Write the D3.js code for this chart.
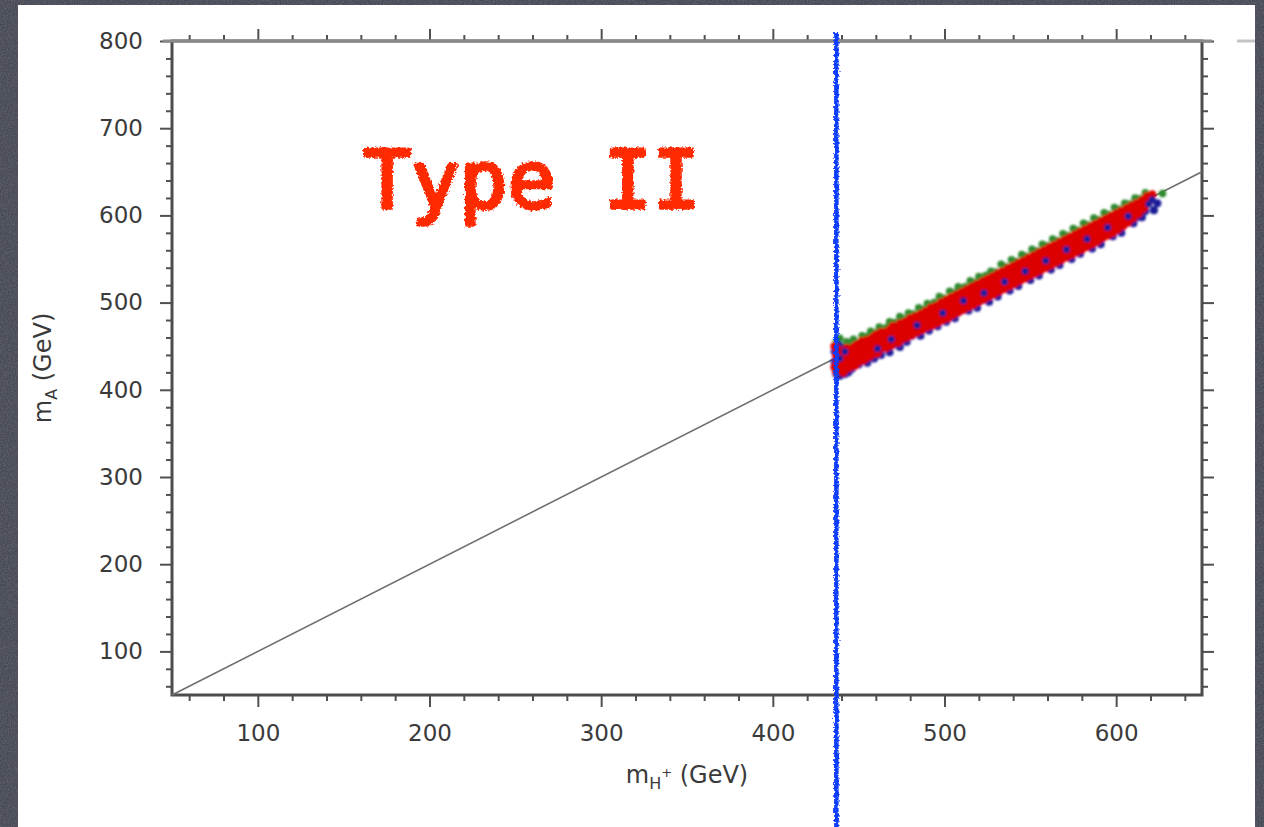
<!DOCTYPE html>
<html>
<head>
<meta charset="utf-8">
<style>
body { margin: 0; background: #4a4d57; }
svg { display: block; }
.axis line { stroke: #505050; stroke-width: 2; }
.axis text { font: 23px "DejaVu Sans", sans-serif; fill: #3a3a3a; }
.title { font: 24px "DejaVu Sans", sans-serif; fill: #3a3a3a; }
</style>
</head>
<body>
<svg width="1264" height="827"></svg>
<script src="https://cdn.jsdelivr.net/npm/d3@7"></script>
<script>
// axis ticks
const xMajor = [100, 200, 300, 400, 500, 600];
const yMajor = [100, 200, 300, 400, 500, 600, 700, 800];
const xMinor = [60,80,120,140,160,180,220,240,260,280,320,340,360,380,420,440,460,480,520,540,560,580,620,640];
const yMinor = [60,80,120,140,160,180,220,240,260,280,320,340,360,380,420,440,460,480,520,540,560,580,620,640,660,680,720,740,760,780];

// reference line m_A = m_H+ and the hand drawn cut
const diagonal = [[50, 50], [650, 650]];
const cutX = 437;

// scan points [m_H+, m_A]
const greenPts = [
[437,455],[439,459],[440,450],[443,455],[445,452],[447,458],[449,454],[452,462],[455,461],[457,467],
[460,465],[462,472],[466,471],[468,478],[471,477],[474,484],[476,481],[479,488],[482,487],[485,494],
[488,492],[490,499],[494,500],[497,507],[500,505],[503,513],[506,511],[508,518],[512,518],[515,525],
[518,523],[520,530],[524,531],[527,536],[530,535],[533,544],[536,541],[539,549],[542,547],[545,555],
[548,553],[551,561],[554,559],[557,567],[560,565],[563,573],[566,571],[569,579],[572,577],[575,585],
[578,583],[581,591],[584,589],[587,597],[590,595],[593,603],[596,601],[599,609],[602,607],[605,614],
[608,613],[611,620],[614,619],[617,626],[622,606],[627,625]
];

const redPts = [
[436,450],[436,426],[437,439],[437,421],[438,446],[438,431],[439,423],[439,441],[440,434],[440,427],
[441,444],[441,420],[442,437],[442,429],[443,448],[443,424],[444,433],[444,441],[445,426],[445,438],
[446,430],[446,444],[447,449],[447,435],[448,428],[448,442],[449,438],[449,452],[450,432],[450,445],
[451,450],[451,436],[452,446],[452,456],[453,440],[453,434],[454,451],[454,445],[455,457],[455,437],
[456,449],[456,441],[457,455],[457,439],[458,460],[458,448],[459,443],[459,454],[460,463],[460,447],
[461,452],[461,442],[462,459],[462,446],[463,455],[463,466],[464,449],[464,460],[465,453],[465,466],
[466,458],[466,448],[467,463],[467,452],[468,469],[468,457],[469,451],[469,465],[470,461],[470,473],
[471,455],[471,467],[472,460],[472,470],[473,464],[473,454],[474,469],[474,476],[475,458],[475,466],
[476,472],[476,461],[477,478],[477,465],[478,460],[478,471],[479,475],[479,464],[480,482],[480,468],
[481,463],[481,474],[482,479],[482,467],[483,484],[483,471],[484,466],[484,477],[485,482],[485,470],
[486,487],[486,474],[487,469],[487,480],[488,485],[488,473],[489,490],[489,477],[490,472],[490,484],
[491,487],[491,476],[492,494],[492,480],[493,474],[493,486],[494,491],[494,479],[495,496],[495,483],
[496,477],[496,489],[497,493],[497,481],[498,500],[498,486],[499,480],[499,492],[500,497],[500,484],
[501,503],[501,489],[502,482],[502,495],[503,499],[503,487],[504,506],[504,492],[505,486],[505,498],
[506,503],[506,490],[507,509],[507,495],[508,489],[508,501],[509,506],[509,493],[510,512],[510,498],
[511,492],[511,504],[512,509],[512,497],[513,515],[513,501],[514,495],[514,507],[515,512],[515,500],
[516,518],[516,504],[517,498],[517,510],[518,514],[518,503],[519,521],[519,507],[520,501],[520,513],
[521,517],[521,506],[522,524],[522,510],[523,504],[523,516],[524,520],[524,509],[525,527],[525,513],
[526,507],[526,519],[527,523],[527,512],[528,530],[528,516],[529,510],[529,522],[530,526],[530,515],
[531,533],[531,519],[532,513],[532,525],[533,529],[533,518],[534,536],[534,522],[535,516],[535,528],
[536,532],[536,521],[537,539],[537,525],[538,519],[538,531],[539,535],[539,524],[540,542],[540,528],
[541,522],[541,534],[542,538],[542,527],[543,545],[543,531],[544,525],[544,537],[545,541],[545,530],
[546,548],[546,534],[547,528],[547,540],[548,544],[548,533],[549,551],[549,537],[550,531],[550,543],
[551,547],[551,536],[552,554],[552,540],[553,534],[553,546],[554,550],[554,539],[555,557],[555,543],
[556,537],[556,549],[557,553],[557,542],[558,560],[558,546],[559,540],[559,552],[560,556],[560,545],
[561,563],[561,549],[562,543],[562,555],[563,559],[563,548],[564,566],[564,552],[565,546],[565,558],
[566,562],[566,551],[567,569],[567,555],[568,549],[568,561],[569,565],[569,554],[570,572],[570,558],
[571,552],[571,564],[572,568],[572,557],[573,575],[573,561],[574,555],[574,567],[575,571],[575,560],
[576,578],[576,564],[577,558],[577,570],[578,574],[578,563],[579,581],[579,567],[580,561],[580,573],
[581,577],[581,566],[582,584],[582,570],[583,564],[583,576],[584,580],[584,569],[585,587],[585,573],
[586,567],[586,579],[587,583],[587,572],[588,590],[588,576],[589,570],[589,582],[590,586],[590,575],
[591,593],[591,579],[592,574],[592,585],[593,589],[593,578],[594,596],[594,582],[595,577],[595,588],
[596,592],[596,581],[597,599],[597,585],[598,580],[598,591],[599,595],[599,584],[600,602],[600,588],
[601,584],[601,595],[602,598],[602,588],[603,605],[603,592],[604,588],[604,598],[605,601],[605,592],
[606,608],[606,596],[607,592],[607,602],[608,605],[608,596],[609,611],[609,600],[610,597],[610,606],
[611,609],[611,601],[612,614],[612,604],[613,602],[613,610],[614,613],[614,606],[615,617],[615,609],
[616,608],[616,614],[617,619],[617,612],[618,622],[619,616],[620,621],[621,624]
];

// blue points mostly sit under the red core; a few stray ones show on top
const bluePts = [
[436,444],[436,432],[437,418],[437,447],[438,425],[438,452],[439,430],[439,416],[440,440],[440,420],
[441,448],[441,428],[442,418],[443,436],[444,420],[446,424],[448,432],[450,429],[452,434],[455,431],
[457,440],[459,436],[463,440],[466,448],[468,443],[472,452],[474,449],[476,458],
[478,455],[481,462],[486,462],[489,471],[491,468],[494,476],[496,473],[501,478],
[504,486],[506,482],[509,490],[514,491],[517,499],[519,494],[522,503],[526,501],
[528,510],[531,507],[533,516],[538,514],[540,522],[543,519],[545,528],[550,526],
[552,535],[555,531],[557,540],[562,538],[564,547],[567,543],[569,552],[574,550],
[576,559],[579,556],[581,564],[586,562],[588,571],[591,567],[593,577],[598,576],
[600,585],[603,580],[605,590],[610,591],[612,598],[615,598],[617,605],[622,606],
[624,614]
];
const blueTop = [
[439,436],[442,444],[461,447],[469,458],[484,474],[499,488],[511,502],[523,511],[535,524],[547,536],
[559,548],[571,561],[583,573],[595,586],[607,599],[619,613],[621,618]
];

const W = 1264, H = 827;
const plot = {left: 172, right: 1202, top: 41, bottom: 695};

const svg = d3.select("svg");
const defs = svg.append("defs");

// grainy slide background
const grain = defs.append("filter").attr("id", "grain")
  .attr("filterUnits", "userSpaceOnUse").attr("x", 0).attr("y", 0).attr("width", W).attr("height", H);
grain.append("feTurbulence").attr("type", "fractalNoise").attr("baseFrequency", 0.7).attr("numOctaves", 3).attr("seed", 4);
grain.append("feColorMatrix").attr("type", "matrix")
  .attr("values", "0 0 0 0 0.55  0 0 0 0 0.57  0 0 0 0 0.63  0 0 0 -1.1 0.75");

// rough chalk-like edges
const chalk = defs.append("filter").attr("id", "chalk")
  .attr("filterUnits", "userSpaceOnUse").attr("x", 0).attr("y", 0).attr("width", W).attr("height", H);
chalk.append("feTurbulence").attr("type", "fractalNoise").attr("baseFrequency", 0.45).attr("numOctaves", 2).attr("seed", 2).attr("result", "n");
chalk.append("feDisplacementMap").attr("in", "SourceGraphic").attr("in2", "n").attr("scale", 5)
  .attr("xChannelSelector", "R").attr("yChannelSelector", "G");

// slight blur for the scanned points
const soft = defs.append("filter").attr("id", "soft")
  .attr("filterUnits", "userSpaceOnUse").attr("x", 0).attr("y", 0).attr("width", W).attr("height", H);
soft.append("feGaussianBlur").attr("stdDeviation", 0.8);

svg.append("rect").attr("width", W).attr("height", H).attr("fill", "#474a54");
svg.append("rect").attr("width", W).attr("height", H).attr("fill", "#fff").attr("filter", "url(#grain)").attr("opacity", 0.35);
svg.append("rect").attr("x", 18).attr("y", 5).attr("width", 1237).attr("height", H).attr("fill", "#fff");

const x = d3.scaleLinear().domain([50, 650]).range([plot.left, plot.right]);
const y = d3.scaleLinear().domain([50, 800]).range([plot.bottom, plot.top]);

// axes: minor ticks then labelled majors on all four sides
function ticks(axisFn, scale, vals, size, pos, labels, pad) {
  const a = axisFn(scale).tickValues(vals).tickSizeInner(size).tickSizeOuter(0);
  if (labels) a.tickPadding(pad); else a.tickFormat("");
  const g = svg.append("g").attr("class", "axis").attr("transform", pos).call(a);
  g.select(".domain").remove();
}
ticks(d3.axisBottom, x, xMinor, 6, `translate(0,${plot.bottom})`, false);
ticks(d3.axisBottom, x, xMajor, 12, `translate(0,${plot.bottom})`, true, 18);
ticks(d3.axisTop, x, xMinor, 6, `translate(0,${plot.top})`, false);
ticks(d3.axisTop, x, xMajor, 12, `translate(0,${plot.top})`, false);
ticks(d3.axisLeft, y, yMinor, 6, `translate(${plot.left},0)`, false);
ticks(d3.axisLeft, y, yMajor, 12, `translate(${plot.left},0)`, true, 17);
ticks(d3.axisRight, y, yMinor, 6, `translate(${plot.right},0)`, false);
ticks(d3.axisRight, y, yMajor, 12, `translate(${plot.right},0)`, false);

// frame
svg.append("rect")
  .attr("x", plot.left).attr("y", plot.top)
  .attr("width", plot.right - plot.left).attr("height", plot.bottom - plot.top)
  .attr("fill", "none").attr("stroke", "#4d4d4d").attr("stroke-width", 3);
svg.append("line").attr("x1", plot.left - 9).attr("x2", plot.right + 10)
  .attr("y1", plot.top).attr("y2", plot.top).attr("stroke", "#8a8a8a").attr("stroke-width", 3);
svg.append("line").attr("x1", 1237).attr("x2", 1255)
  .attr("y1", plot.top).attr("y2", plot.top).attr("stroke", "#c4c4c4").attr("stroke-width", 3);

svg.append("path").datum(diagonal)
  .attr("d", d3.line().x(d => x(d[0])).y(d => y(d[1])))
  .attr("fill", "none").attr("stroke", "#6e6e6e").attr("stroke-width", 1.6);

// scatter: green and blue under the red core, a few blue strays on top
const layers = [[greenPts, "#2f8a2f", 3.8], [bluePts, "#1b1d9a", 4], [redPts, "#dc0000", 4.3], [blueTop, "#1b1d9a", 3.5]];
const pg = svg.append("g").attr("filter", "url(#soft)");
layers.forEach(([pts, col, r]) => {
  pg.append("g").selectAll("circle").data(pts).join("circle")
    .attr("cx", d => x(d[0])).attr("cy", d => y(d[1]))
    .attr("r", r).attr("fill", col);
});

// axis titles
const xt = svg.append("text").attr("class", "title")
  .attr("x", (plot.left + plot.right) / 2).attr("y", 783).attr("text-anchor", "middle");
xt.append("tspan").text("m");
xt.append("tspan").attr("font-size", 16).attr("dy", 6).text("H");
xt.append("tspan").attr("font-size", 13).attr("dy", -12).text("+");
xt.append("tspan").attr("dy", 6).text(" (GeV)");

const yt = svg.append("text").attr("class", "title")
  .attr("transform", `translate(51,${(plot.top + plot.bottom) / 2}) rotate(-90)`)
  .attr("text-anchor", "middle");
yt.append("tspan").text("m");
yt.append("tspan").attr("font-size", 16).attr("dy", 6).text("A");
yt.append("tspan").attr("dy", -6).text(" (GeV)");

// hand annotation
svg.append("text").attr("x", 363).attr("y", 208)
  .attr("font-family", "DejaVu Sans Mono").attr("font-size", 80)
  .attr("fill", "#ff2a00").attr("stroke", "#ff2a00").attr("stroke-width", 3.5)
  .attr("stroke-linejoin", "round")
  .attr("filter", "url(#chalk)")
  .text("Type II");

svg.append("line")
  .attr("x1", x(cutX)).attr("x2", x(cutX)).attr("y1", 32).attr("y2", H)
  .attr("stroke", "#0b3cff").attr("stroke-width", 4.5).attr("filter", "url(#chalk)");
</script>
</body>
</html>
